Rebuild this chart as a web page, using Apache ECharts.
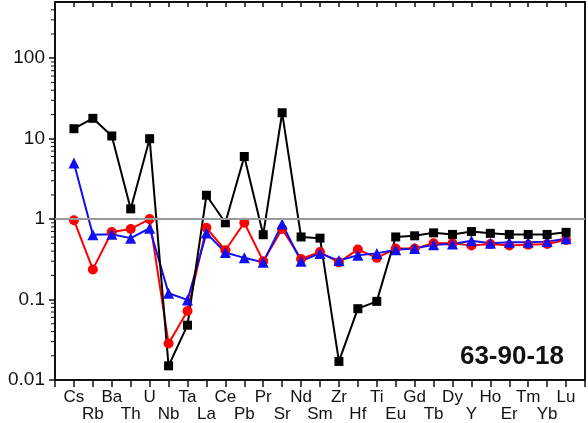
<!DOCTYPE html>
<html>
<head>
<meta charset="utf-8">
<script src="https://cdn.jsdelivr.net/npm/echarts@6/dist/echarts.min.js"></script>
<style>html,body{margin:0;padding:0;background:#fff}#c{width:588px;height:423px}</style>
</head>
<body>
<div id="c"></div>
<script>
var elements = ['Cs','Rb','Ba','Th','U','Nb','Ta','La','Ce','Pb','Pr','Sr','Nd','Sm','Zr','Hf','Ti','Eu','Gd','Tb','Dy','Y','Ho','Er','Tm','Yb','Lu'];
var blackSeries = [13.3, 17.9, 10.8, 1.34, 10.0, 0.0150, 0.048, 1.98, 0.90, 6.0, 0.64, 21.0, 0.60, 0.58, 0.017, 0.077, 0.095, 0.60, 0.62, 0.675, 0.645, 0.70, 0.665, 0.645, 0.645, 0.645, 0.685];
var redSeries = [0.97, 0.237, 0.69, 0.755, 1.0, 0.0285, 0.072, 0.78, 0.41, 0.90, 0.30, 0.755, 0.32, 0.39, 0.29, 0.42, 0.33, 0.43, 0.43, 0.50, 0.50, 0.47, 0.49, 0.47, 0.48, 0.49, 0.55];
var blueSeries = [5.0, 0.64, 0.65, 0.58, 0.77, 0.12, 0.099, 0.67, 0.385, 0.33, 0.29, 0.87, 0.30, 0.375, 0.305, 0.355, 0.375, 0.415, 0.43, 0.48, 0.49, 0.54, 0.50, 0.515, 0.515, 0.525, 0.57];
var yMajorTicks = [0.01, 0.1, 1, 10, 100];
var yMinorTicks = [0.02,0.03,0.04,0.05,0.06,0.07,0.08,0.09,
                   0.2,0.3,0.4,0.5,0.6,0.7,0.8,0.9,
                   2,3,4,5,6,7,8,9,
                   20,30,40,50,60,70,80,90,
                   200,300,400];
var sampleName = '63-90-18';

function pairs(arr) { return arr.map(function (v, i) { return [i, v]; }); }

var chart = echarts.init(document.getElementById('c'), null, {renderer: 'canvas'});
var fontFam = 'Liberation Sans, Arial, sans-serif';
chart.setOption({
  animation: false,
  title: {
    text: sampleName, right: 19, top: 339,
    textStyle: {fontFamily: fontFam, fontWeight: 'bold', fontSize: 26, color: '#111'}
  },
  grid: {left: 55, right: 2, top: 2, bottom: 43, show: true, borderColor: '#111', borderWidth: 2},
  xAxis: [{
    type: 'value', min: -1, max: 27, interval: 1,
    axisLine: {show: true, onZero: false, lineStyle: {color: '#111', width: 2}},
    axisTick: {show: true, inside: false, length: 7, lineStyle: {color: '#111', width: 1.5}},
    splitLine: {show: false},
    axisLabel: {
      margin: 9, fontFamily: fontFam, fontSize: 17, color: '#111', lineHeight: 17,
      showMinLabel: true, showMaxLabel: true,
      formatter: function (v) {
        var i = Math.round(v);
        if (i < 0 || i >= elements.length) return '';
        return (i % 2 === 1 ? '\n' : '') + elements[i];
      }
    }
  }, {
    type: 'value', min: -1, max: 27, interval: 1, position: 'top',
    axisLine: {show: true, onZero: false, lineStyle: {color: '#111', width: 2}},
    axisTick: {show: true, inside: true, length: 5, lineStyle: {color: '#111', width: 1.5}},
    axisLabel: {show: false}, splitLine: {show: false}
  }],
  yAxis: [{
    type: 'log', logBase: 10, min: 0.01, max: 500, position: 'left',
    axisLine: {show: true, onZero: false, lineStyle: {color: '#111', width: 2}},
    axisTick: {show: true, inside: false, length: 6, customValues: yMajorTicks, lineStyle: {color: '#111', width: 1.5}},
    axisLabel: {
      margin: 10, fontFamily: fontFam, fontSize: 19, color: '#111', customValues: yMajorTicks,
      formatter: function (v) { return String(+v.toPrecision(3)); }
    },
    splitLine: {show: false}
  }],
  series: [{
    name: 'minorTicks', type: 'custom', silent: true, clip: false, z: 5,
    data: yMinorTicks.map(function (v) { return [-1, v]; }),
    encode: {x: 0, y: 1},
    renderItem: function (params, api) {
      var p = api.coord([api.value(0), api.value(1)]);
      return {
        type: 'line',
        shape: {x1: p[0] - 4, y1: p[1], x2: p[0], y2: p[1]},
        style: {stroke: '#111', lineWidth: 1}
      };
    }
  }, {
    name: 'ref', type: 'line', data: [], silent: true,
    markLine: {
      silent: true, symbol: 'none', label: {show: false},
      lineStyle: {color: '#999', width: 2, type: 'solid'},
      data: [{yAxis: 1}]
    }
  }, {
    name: 'red', type: 'line', data: pairs(redSeries),
    symbol: 'circle', symbolSize: 10,
    lineStyle: {color: '#f00', width: 2}, itemStyle: {color: '#f00'}
  }, {
    name: 'blue', type: 'line', data: pairs(blueSeries),
    symbol: 'triangle', symbolSize: 11,
    lineStyle: {color: '#1010f0', width: 2}, itemStyle: {color: '#1010f0'}
  }, {
    name: 'black', type: 'line', data: pairs(blackSeries),
    symbol: 'rect', symbolSize: 9,
    lineStyle: {color: '#000', width: 2}, itemStyle: {color: '#000'}
  }]
});
</script>
</body>
</html>
